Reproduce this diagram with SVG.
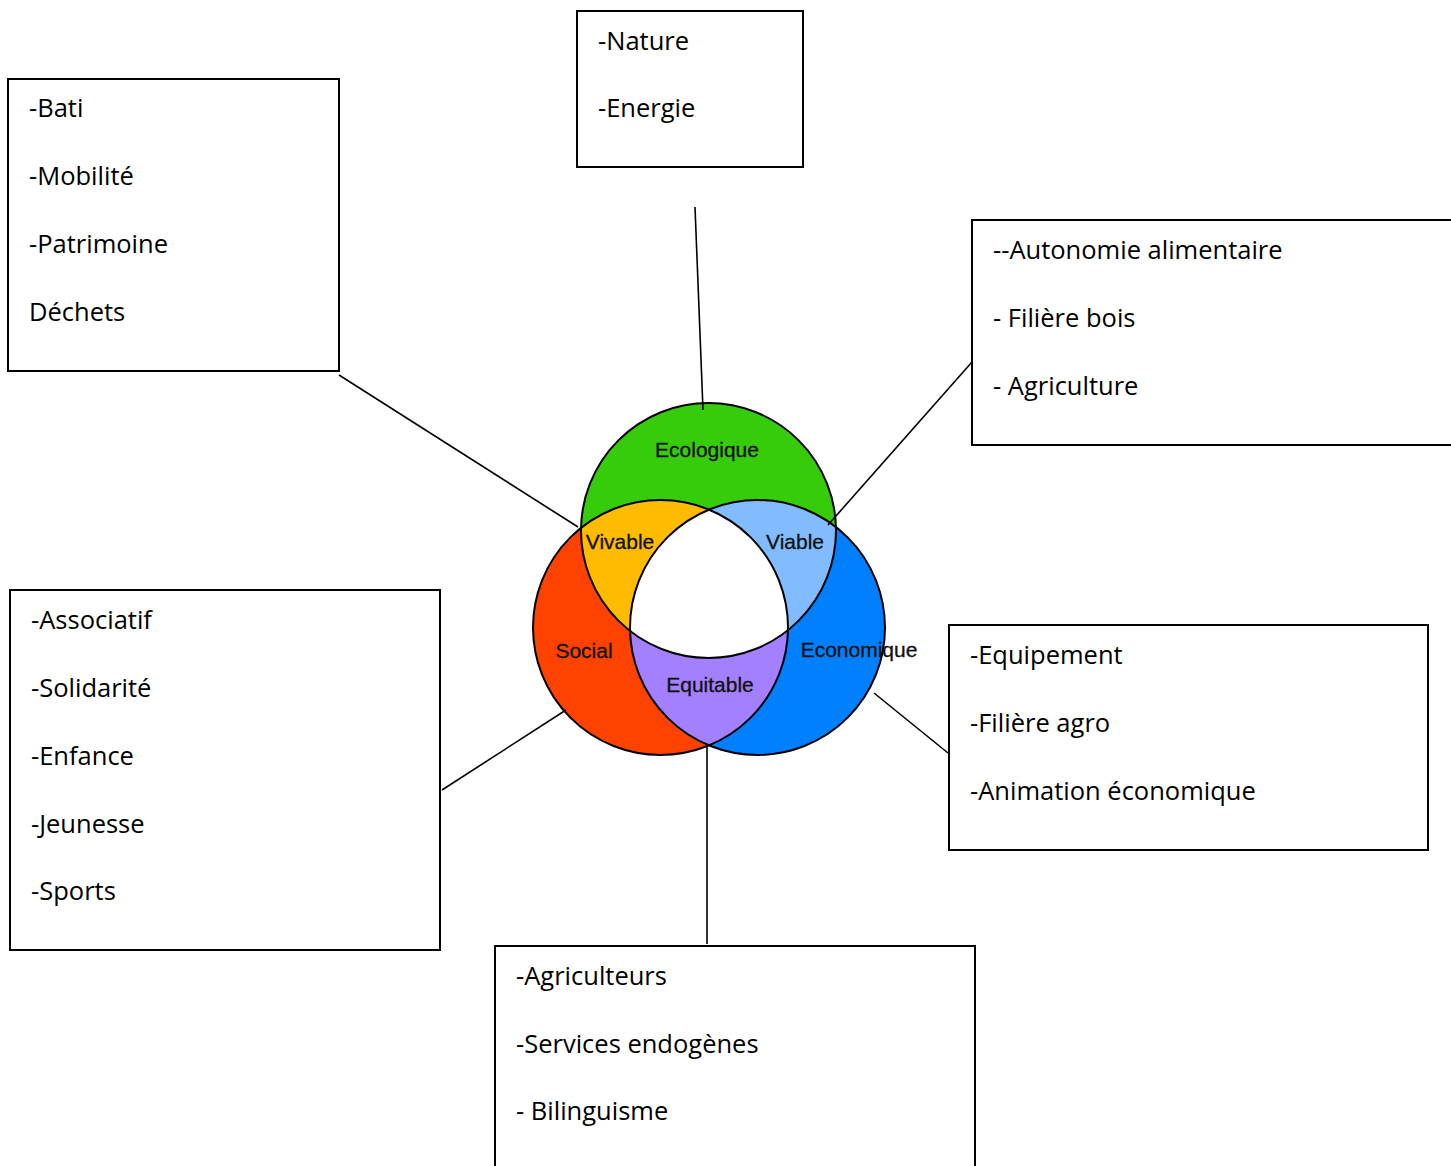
<svg xmlns="http://www.w3.org/2000/svg" width="1451" height="1166" viewBox="0 0 1451 1166">
<style>
.box{fill:#fff;stroke:#000;stroke-width:2}
.t{font-family:"Open Sans","Noto Sans",sans-serif;font-size:25.5px;fill:#000}
.v{font-family:"Liberation Sans",Arial,sans-serif;font-size:21px;fill:#111;text-anchor:middle;stroke:#111;stroke-width:0.3}
.c{fill:none;stroke:#000;stroke-width:2}
.ln{stroke:#000;stroke-width:1.6;fill:none}
</style>
<defs>
<clipPath id="cEco"><circle cx="708.5" cy="530.5" r="127.5"/></clipPath>
<clipPath id="cSoc"><circle cx="660.5" cy="627.5" r="127.5"/></clipPath>
<clipPath id="cEcn"><circle cx="757.5" cy="627.5" r="127.5"/></clipPath>
</defs>
<rect width="1451" height="1166" fill="#fff"/>

<g id="venn">
<circle cx="708.5" cy="530.5" r="127.5" fill="#36cc0a"/>
<circle cx="660.5" cy="627.5" r="127.5" fill="#ff4200"/>
<circle cx="757.5" cy="627.5" r="127.5" fill="#0080ff"/>
<circle cx="660.5" cy="627.5" r="127.5" fill="#ffbb00" clip-path="url(#cEco)"/>
<circle cx="757.5" cy="627.5" r="127.5" fill="#80bcff" clip-path="url(#cEco)"/>
<circle cx="757.5" cy="627.5" r="127.5" fill="#a280ff" clip-path="url(#cSoc)"/>
<g clip-path="url(#cSoc)"><circle cx="757.5" cy="627.5" r="127.5" fill="#fff" clip-path="url(#cEco)"/></g>
<circle class="c" cx="708.5" cy="530.5" r="127.5"/>
<circle class="c" cx="660.5" cy="627.5" r="127.5"/>
<circle class="c" cx="757.5" cy="627.5" r="127.5"/>
<text class="v" x="707" y="457">Ecologique</text>
<text class="v" x="620" y="549">Vivable</text>
<text class="v" x="795" y="549">Viable</text>
<text class="v" x="584" y="658">Social</text>
<text class="v" x="859" y="657">Economique</text>
<text class="v" x="710" y="692">Equitable</text>
</g>

<g id="connectors">
<line class="ln" x1="339" y1="375" x2="578" y2="527"/>
<line class="ln" x1="695" y1="207" x2="703" y2="410"/>
<line class="ln" x1="972" y1="362" x2="828" y2="525"/>
<line class="ln" x1="442" y1="790" x2="566" y2="710"/>
<line class="ln" x1="874" y1="693" x2="948" y2="753"/>
<line class="ln" x1="707" y1="745" x2="707" y2="944"/>
</g>

<g id="box-bati">
<rect class="box" x="8" y="79" width="331" height="292"/>
<text class="t" x="29" y="117">-Bati</text>
<text class="t" x="29" y="185">-Mobilité</text>
<text class="t" x="29" y="253">-Patrimoine</text>
<text class="t" x="29" y="321">Déchets</text>
</g>

<g id="box-nature">
<rect class="box" x="577" y="11" width="226" height="156"/>
<text class="t" x="598" y="50">-Nature</text>
<text class="t" x="598" y="117">-Energie</text>
</g>

<g id="box-autonomie">
<rect class="box" x="972" y="220" width="495" height="225"/>
<text class="t" x="993" y="259">--Autonomie alimentaire</text>
<text class="t" x="993" y="327">- Filière bois</text>
<text class="t" x="993" y="395">- Agriculture</text>
</g>

<g id="box-associatif">
<rect class="box" x="10" y="590" width="430" height="360"/>
<text class="t" x="31" y="629">-Associatif</text>
<text class="t" x="31" y="697">-Solidarité</text>
<text class="t" x="31" y="765">-Enfance</text>
<text class="t" x="31" y="833">-Jeunesse</text>
<text class="t" x="31" y="900">-Sports</text>
</g>

<g id="box-equipement">
<rect class="box" x="949" y="625" width="479" height="225"/>
<text class="t" x="970" y="664">-Equipement</text>
<text class="t" x="970" y="732">-Filière agro</text>
<text class="t" x="970" y="800">-Animation économique</text>
</g>

<g id="box-agriculteurs">
<rect class="box" x="495" y="946" width="480" height="240"/>
<text class="t" x="516" y="985">-Agriculteurs</text>
<text class="t" x="516" y="1053">-Services endogènes</text>
<text class="t" x="516" y="1120">- Bilinguisme</text>
</g>
</svg>
